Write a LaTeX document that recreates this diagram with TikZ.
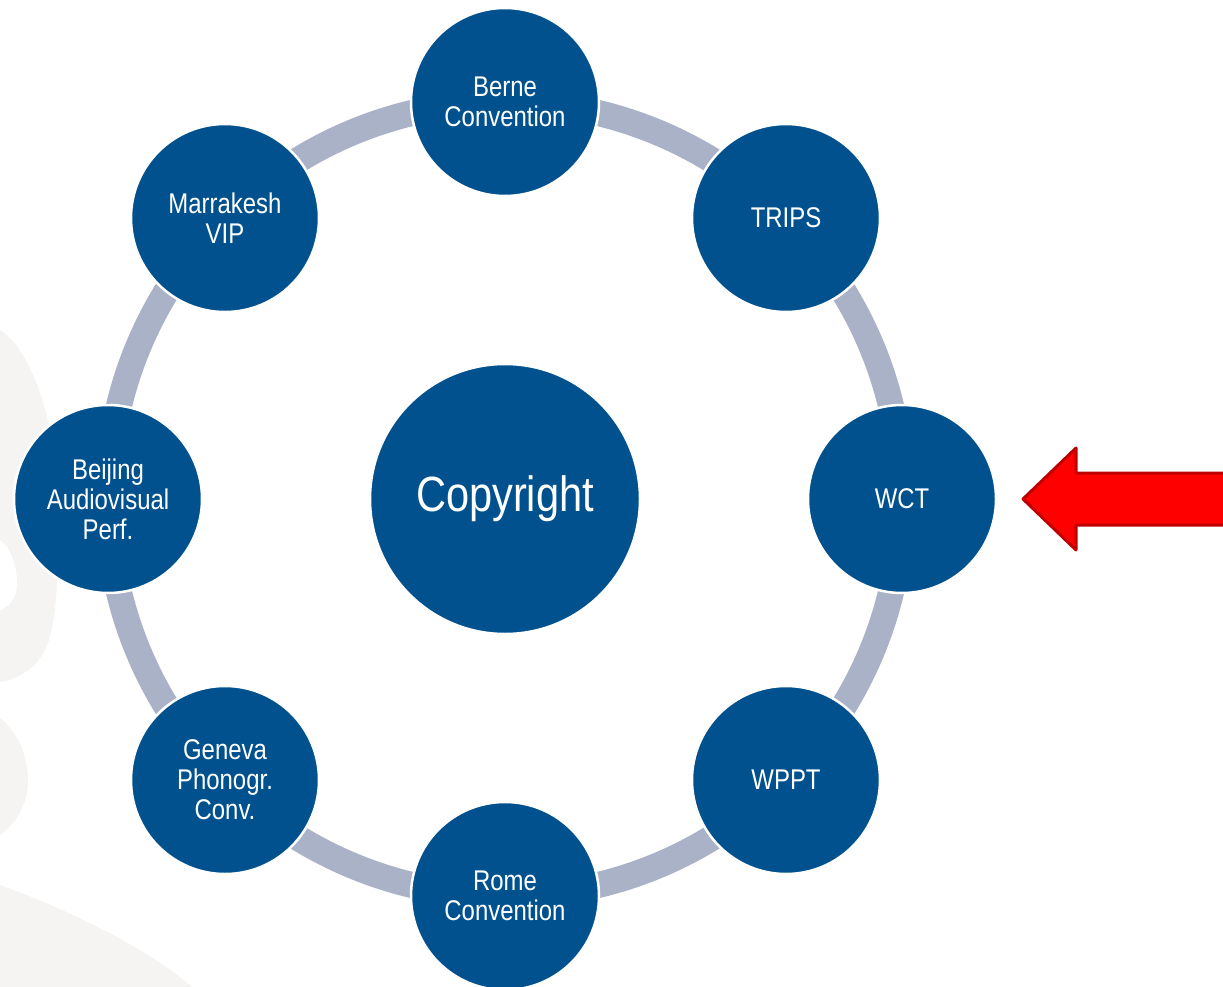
\documentclass[tikz,border=0pt]{standalone}
\usepackage{fontspec}
\setmainfont{Liberation Sans}
\newfontfamily\narrowfont{Liberation Sans}[FakeStretch=0.84]
\definecolor{nodeblue}{RGB}{0,81,142}
\definecolor{ringgray}{RGB}{169,178,198}
\definecolor{bggray}{RGB}{245,244,242}
\definecolor{arrowred}{RGB}{255,0,0}
\definecolor{arrowedge}{RGB}{192,0,0}
\tikzset{
  treaty/.style={circle, fill=nodeblue, draw=white, line width=2.5pt, minimum size=188pt, inner sep=0pt,
    text=white, align=center, font=\narrowfont\fontsize{28.5}{30}\selectfont},
  hub/.style={circle, fill=nodeblue, draw=white, line width=2.5pt, minimum size=270pt, inner sep=0pt,
    text=white, align=center, font=\narrowfont\fontsize{49.5}{54}\selectfont},
  ring/.style={draw=ringgray, line width=26pt},
  bgblob/.style={fill=bggray, draw=none},
  bigarrow/.style={fill=arrowred, draw=arrowedge, line width=3pt, line join=round}
}
\begin{document}
\begin{tikzpicture}[x=1pt,y=-1pt]
\useasboundingbox (0,0) rectangle (1223,987);
% faint background shapes
\fill[bgblob] (0,330) .. controls (25,345) and (50,400) .. (55,470)
  .. controls (60,540) and (60,620) .. (45,650)
  .. controls (35,670) and (15,680) .. (0,682) -- (0,610)
  .. controls (12,606) and (18,595) .. (17,580)
  .. controls (16,560) and (8,545) .. (0,540) -- cycle;
\fill[bgblob] (0,718) .. controls (15,730) and (27,750) .. (28,780)
  .. controls (28,805) and (15,825) .. (0,835) -- cycle;
\fill[bgblob] (0,885) .. controls (70,910) and (150,950) .. (192,987) -- (0,987) -- cycle;
% ring
\coordinate (c) at (505,499);
\draw[ring] (c) circle (397pt);
% nodes
\node[hub] (copyright) at (505,499) {Copyright};
\node[treaty] (berne) at (505,102) {Berne\\Convention};
\node[treaty] (trips) at (786,218) {TRIPS};
\node[treaty] (wct) at (902,499) {WCT};
\node[treaty] (wppt) at (786,780) {WPPT};
\node[treaty] (rome) at (505,896) {Rome\\Convention};
\node[treaty] (geneva) at (225,780) {Geneva\\Phonogr.\\Conv.};
\node[treaty] (beijing) at (108,499) {Beijing\\Audiovisual\\Perf.};
\node[treaty] (marrakesh) at (225,218) {Marrakesh\\VIP};
% red arrow
\draw[bigarrow] (1023,499) -- (1076,448) -- (1076,473) -- (1230,473) -- (1230,525) -- (1076,525) -- (1076,550) -- cycle;
\end{tikzpicture}
\end{document}
